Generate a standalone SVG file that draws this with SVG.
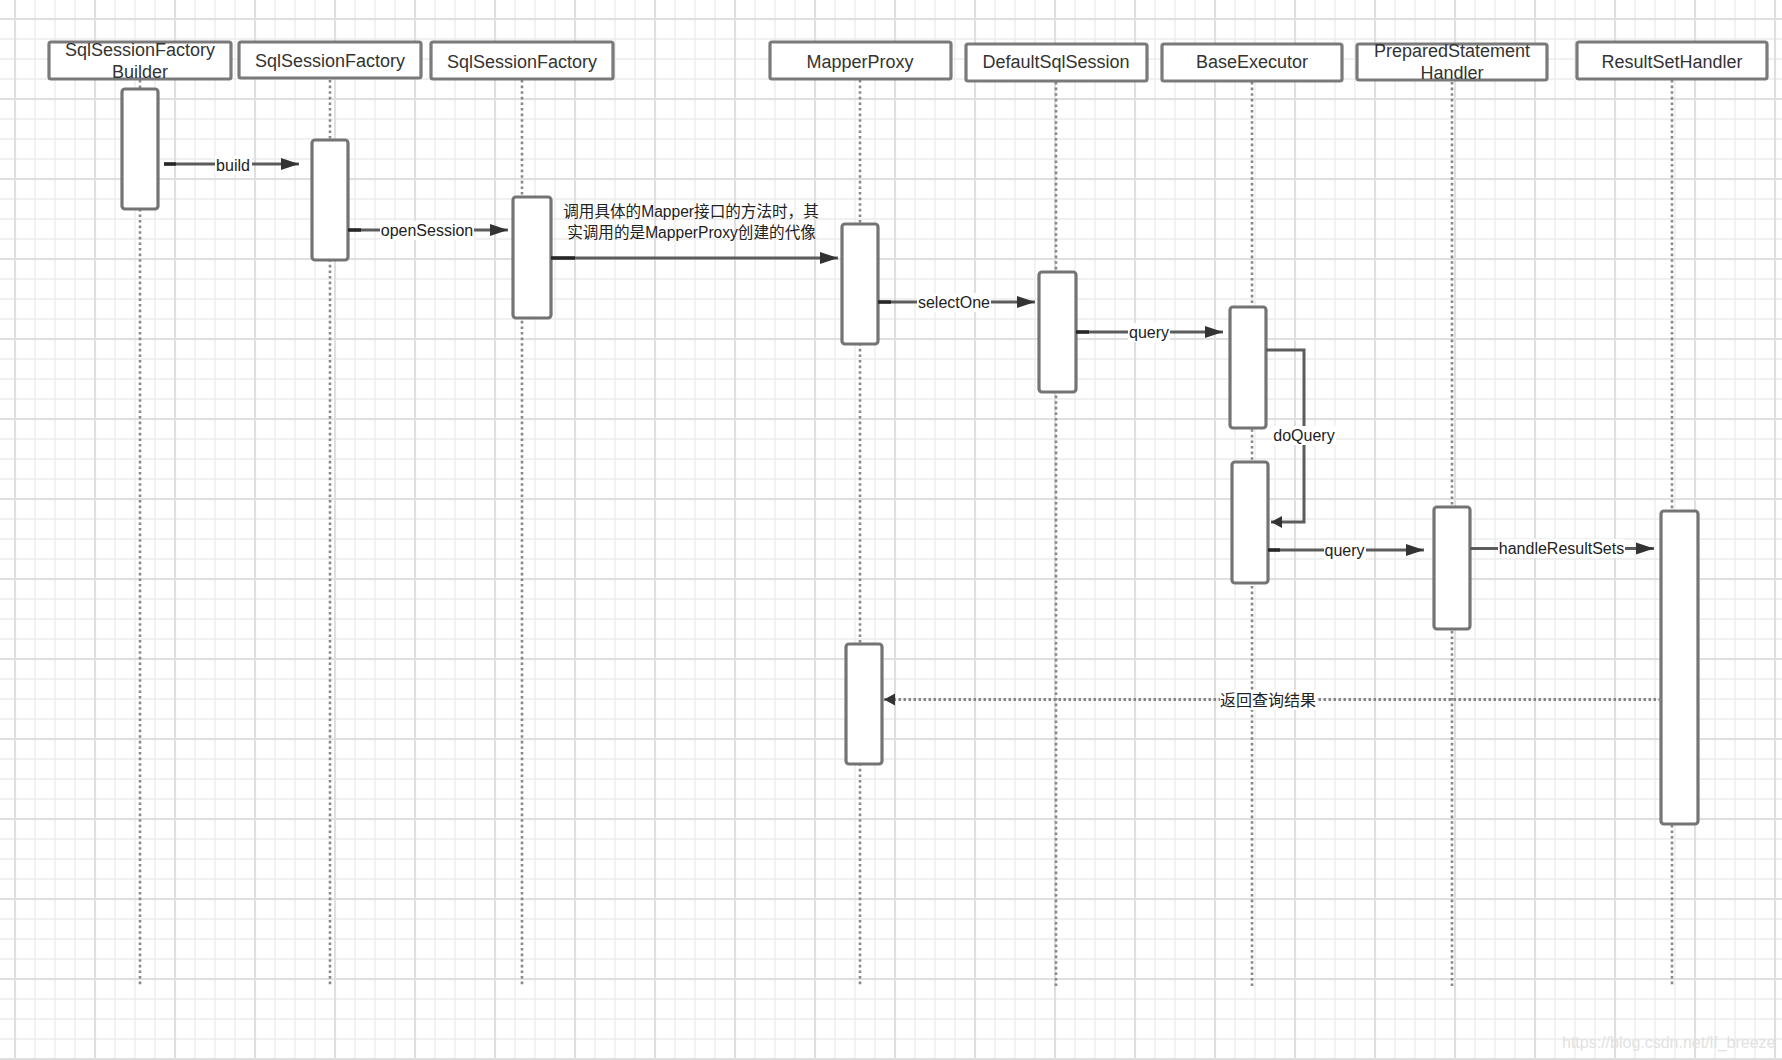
<svg xmlns="http://www.w3.org/2000/svg" width="1782" height="1060" viewBox="0 0 1782 1060">
<style>
text{font-family:"Liberation Sans","Noto Sans CJK SC",Arial,sans-serif}
.hdr rect{fill:#fff;stroke:#7a7a7a;stroke-width:3.2}
.hdr text{font-size:18px;fill:#333;text-anchor:middle}
.life{stroke:#888;stroke-width:2.6;stroke-dasharray:2.6 3;fill:none}
.act{fill:#fff;stroke:#747474;stroke-width:3.2}
.msg{stroke:#5c5c5c;stroke-width:3;fill:none}
.st{stroke:#262626;stroke-width:3.4}
.ret{stroke:#858585;stroke-width:3;stroke-dasharray:2.5 2.5;fill:none}
.lbl{font-size:16px;fill:#222;text-anchor:middle}
.bg{fill:#fff}
</style>
<defs>
<pattern id="grid" patternUnits="userSpaceOnUse" x="14" y="18" width="80" height="80">
<path d="M21 0V80M41 0V80M61 0V80M0 21H80M0 41H80M0 61H80" stroke="#ececec" stroke-width="1.4"/>
<path d="M1 0V80M0 1H80" stroke="#dfdfdf" stroke-width="2.2"/>
</pattern>
<marker id="arr" markerUnits="userSpaceOnUse" markerWidth="18" markerHeight="14" refX="18" refY="7" orient="auto">
<path d="M0,1 L18,7 L0,13 z" fill="#333"/>
</marker>
<marker id="arrS" markerUnits="userSpaceOnUse" markerWidth="11" markerHeight="13" refX="11" refY="6.5" orient="auto">
<path d="M0,0.5 L11,6.5 L0,12.5 z" fill="#333"/>
</marker>
</defs>
<rect x="0" y="0" width="1782" height="1060" fill="#fff"/>
<rect x="0" y="0" width="1782" height="1060" fill="url(#grid)"/>

<g id="lifelines">
<path class="life" d="M140 80V986M330 80V986M522 80V986M860 80V986M1056 82V986M1252 82V986M1452 82V986M1672 80V986"/>
</g>

<g id="node-builder" class="hdr"><rect x="49" y="42" width="182" height="37" rx="2"/><text x="140" y="56">SqlSessionFactory</text><text x="140" y="78">Builder</text></g>
<g id="node-factory1" class="hdr"><rect x="239" y="42" width="182" height="36" rx="2"/><text x="330" y="66.5">SqlSessionFactory</text></g>
<g id="node-factory2" class="hdr"><rect x="431" y="42" width="182" height="37" rx="2"/><text x="522" y="67.5">SqlSessionFactory</text></g>
<g id="node-mapperproxy" class="hdr"><rect x="770" y="42" width="181" height="37" rx="2"/><text x="860" y="67.5">MapperProxy</text></g>
<g id="node-defaultsqlsession" class="hdr"><rect x="966" y="44" width="181" height="37" rx="2"/><text x="1056" y="68">DefaultSqlSession</text></g>
<g id="node-baseexecutor" class="hdr"><rect x="1162" y="44" width="180" height="37" rx="2"/><text x="1252" y="68">BaseExecutor</text></g>
<g id="node-psh" class="hdr"><rect x="1357" y="44" width="190" height="36" rx="2"/><text x="1452" y="57">PreparedStatement</text><text x="1452" y="79">Handler</text></g>
<g id="node-rsh" class="hdr"><rect x="1577" y="42" width="190" height="37" rx="2"/><text x="1672" y="67.5">ResultSetHandler</text></g>

<g id="activations">
<rect id="act-builder" class="act" x="122" y="89" width="36" height="120" rx="3"/>
<rect id="act-factory1" class="act" x="312" y="140" width="36" height="120" rx="3"/>
<rect id="act-factory2" class="act" x="513" y="197" width="38" height="121" rx="3"/>
<rect id="act-mapperproxy1" class="act" x="842" y="224" width="36" height="120" rx="3"/>
<rect id="act-defaultsqlsession" class="act" x="1039" y="272" width="37" height="120" rx="3"/>
<rect id="act-baseexecutor1" class="act" x="1230" y="307" width="36" height="121" rx="3"/>
<rect id="act-baseexecutor2" class="act" x="1232" y="462" width="36" height="121" rx="3"/>
<rect id="act-psh" class="act" x="1434" y="507" width="36" height="122" rx="3"/>
<rect id="act-rsh" class="act" x="1661" y="511" width="37" height="313" rx="3"/>
<rect id="act-mapperproxy2" class="act" x="846" y="644" width="36" height="120" rx="3"/>
</g>

<g id="connectors">
<line class="msg" x1="164" y1="164" x2="299" y2="164" marker-end="url(#arr)"/>
<line class="st" x1="164" y1="164" x2="176" y2="164"/>
<rect class="bg" x="215" y="155" width="37" height="19"/>
<text class="lbl" x="233" y="170.5">build</text>

<line class="msg" x1="348" y1="230" x2="508" y2="230" marker-end="url(#arr)"/>
<line class="st" x1="348" y1="230" x2="361" y2="230"/>
<rect class="bg" x="380" y="221" width="94" height="19"/>
<text class="lbl" x="427" y="236">openSession</text>

<line class="msg" x1="551" y1="258" x2="838" y2="258" marker-end="url(#arr)"/>
<line class="st" x1="551" y1="258" x2="575" y2="258"/>
<text class="lbl" x="691" y="217" style="font-size:15.6px">调用具体的Mapper接口的方法时，其</text>
<text class="lbl" x="691.5" y="237.5" style="font-size:15.6px">实调用的是MapperProxy创建的代像</text>

<line class="msg" x1="878" y1="302" x2="1035" y2="302" marker-end="url(#arr)"/>
<line class="st" x1="878" y1="302" x2="891" y2="302"/>
<rect class="bg" x="917" y="293" width="74" height="19"/>
<text class="lbl" x="954" y="307.5">selectOne</text>

<line class="msg" x1="1076" y1="332" x2="1223" y2="332" marker-end="url(#arr)"/>
<line class="st" x1="1076" y1="332" x2="1089" y2="332"/>
<rect class="bg" x="1128" y="323" width="42" height="19"/>
<text class="lbl" x="1149" y="338">query</text>

<path class="msg" d="M1266 350H1304V522H1271" marker-end="url(#arrS)"/>
<rect class="bg" x="1272" y="426" width="64" height="19"/>
<text class="lbl" x="1304" y="441">doQuery</text>

<line class="msg" x1="1268" y1="550" x2="1424" y2="550" marker-end="url(#arr)"/>
<line class="st" x1="1268" y1="550" x2="1280" y2="550"/>
<rect class="bg" x="1324" y="541" width="42" height="19"/>
<text class="lbl" x="1344.5" y="556">query</text>

<line class="msg" x1="1470" y1="548.5" x2="1654" y2="548.5" marker-end="url(#arr)"/>
<rect class="bg" x="1498" y="539" width="127" height="19"/>
<text class="lbl" x="1561.5" y="554">handleResultSets</text>

<line class="ret" x1="1661" y1="699.5" x2="884" y2="699.5" marker-end="url(#arrS)"/>
<rect class="bg" x="1220" y="690" width="97" height="20"/>
<text class="lbl" x="1268" y="706">返回查询结果</text>
</g>

<text x="1562" y="1048" style="font-size:16px;fill:#e2e2e2">https://blog.csdn.net/lf_breeze</text>
</svg>
